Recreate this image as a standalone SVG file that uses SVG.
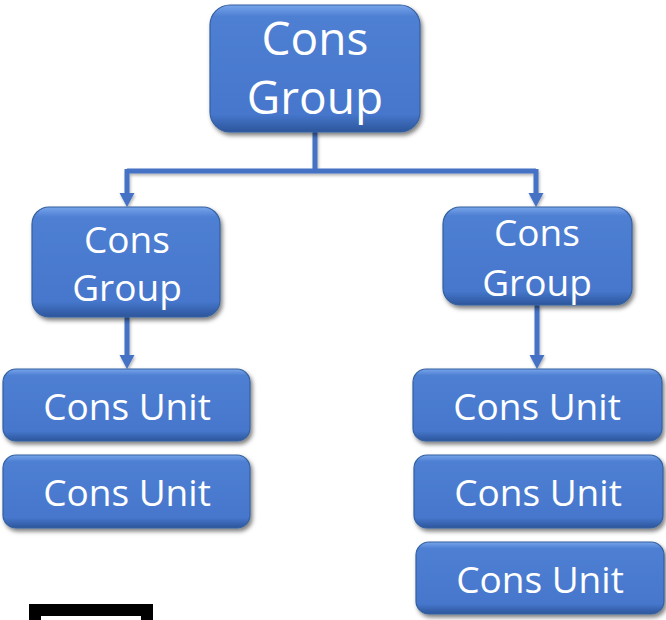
<svg xmlns="http://www.w3.org/2000/svg" width="666" height="620" viewBox="0 0 666 620">
<style>
.box{fill:url(#g);stroke:#35609f;stroke-width:1.2;filter:url(#sh)}
.t{font-family:"Open Sans","Liberation Sans",sans-serif;fill:#ffffff;text-anchor:middle}
.c{fill:none;stroke:#4472c4;stroke-width:5;stroke-linejoin:miter}
</style>
<defs>
<linearGradient id="g" x1="0" y1="0" x2="0" y2="1">
<stop offset="0" stop-color="#78a5ea"/>
<stop offset="0.09" stop-color="#4e7fd3"/>
<stop offset="0.86" stop-color="#4677cc"/>
<stop offset="1" stop-color="#2c559b"/>
</linearGradient>
<filter id="sh" x="-10%" y="-10%" width="125%" height="130%">
<feDropShadow dx="2" dy="3" stdDeviation="2.2" flood-color="#000" flood-opacity="0.5"/>
</filter>
<filter id="lsh" x="-10%" y="-10%" width="125%" height="130%">
<feDropShadow dx="1" dy="2" stdDeviation="1.5" flood-color="#000" flood-opacity="0.3"/>
</filter>
</defs>
<rect width="666" height="620" fill="#ffffff"/>
<g id="connectors" filter="url(#lsh)">
<path class="c" d="M315,132 V171 M127,171 H536"/>
<path class="c" d="M127,169 V194"/>
<path d="M119.5,193 L134.5,193 L127,207 Z" fill="#4472c4"/>
<path class="c" d="M536,169 V194"/>
<path d="M528.5,193 L543.5,193 L536,207 Z" fill="#4472c4"/>
<path class="c" d="M127,317 V356"/>
<path d="M119.5,355 L134.5,355 L127,369 Z" fill="#4472c4"/>
<path class="c" d="M537,305 V356"/>
<path d="M529.5,355 L544.5,355 L537,369 Z" fill="#4472c4"/>
</g>
<g id="top">
<rect class="box" x="210" y="5" width="210" height="127" rx="20"/>
<text class="t" x="315" y="55" font-size="46">Cons</text>
<text class="t" x="315" y="114" font-size="46">Group</text>
</g>
<g id="groupL">
<rect class="box" x="32" y="207" width="188" height="110" rx="17"/>
<text class="t" x="127" y="253" font-size="37">Cons</text>
<text class="t" x="127" y="301" font-size="37">Group</text>
</g>
<g id="groupR">
<rect class="box" x="443" y="207" width="189" height="98" rx="17"/>
<text class="t" x="537" y="246" font-size="37">Cons</text>
<text class="t" x="537" y="296" font-size="37">Group</text>
</g>
<g id="unitL1">
<rect class="box" x="3" y="369" width="247" height="72" rx="13"/>
<text class="t" x="127" y="420" font-size="37">Cons Unit</text>
</g>
<g id="unitL2">
<rect class="box" x="3" y="455" width="247" height="73" rx="13"/>
<text class="t" x="127" y="506" font-size="37">Cons Unit</text>
</g>
<g id="unitR1">
<rect class="box" x="413" y="369" width="249" height="72" rx="13"/>
<text class="t" x="537" y="420" font-size="37">Cons Unit</text>
</g>
<g id="unitR2">
<rect class="box" x="414" y="455" width="249" height="73" rx="13"/>
<text class="t" x="538" y="506" font-size="37">Cons Unit</text>
</g>
<g id="unitR3">
<rect class="box" x="416" y="542" width="248" height="72" rx="13"/>
<text class="t" x="540" y="593" font-size="37">Cons Unit</text>
</g>
<rect x="35" y="610" width="112" height="30" fill="#ffffff" stroke="#000000" stroke-width="12"/>
</svg>
